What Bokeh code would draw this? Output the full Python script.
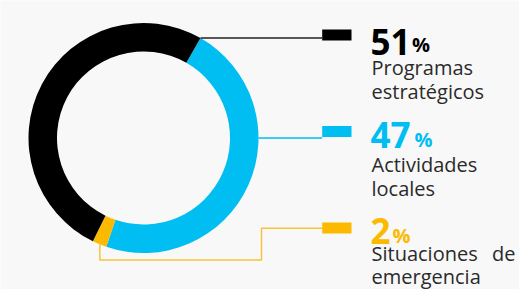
import math
from bokeh.plotting import figure
from bokeh.models import Range1d
from bokeh.core.properties import value
from bokeh.embed import file_html
from bokeh.resources import INLINE

# ---- data ----
categories = ["Programas estratégicos", "Actividades locales", "Situaciones de emergencia"]
values = [51, 47, 2]
pct_labels = ["51", "47", "2"]
label_line1 = ["Programas", "Actividades", "Situaciones"]
label_line2 = ["estratégicos", "locales", "emergencia"]
colors = ["#000000", "#00BEF2", "#FBBA00"]

# drawing order clockwise starting from offset angle (deg from top, clockwise)
draw_order = [1, 2, 0]
start_offset = 29.7

W, H = 519, 289
def Y(sy):
    return 289 - sy

p = figure(width=W, height=H, output_backend="svg", toolbar_location=None,
           x_range=Range1d(0, 519), y_range=Range1d(0, 289), min_border=0)
p.axis.visible = False
p.grid.visible = False
p.outline_line_color = None
p.background_fill_color = "#F8F8F8"
p.border_fill_color = "#F8F8F8"

cx, cy = 143, Y(137.5)
r_in, r_out = 86.5, 115

total = sum(values)
cum = start_offset
seg = {}
for i in draw_order:
    a0 = cum
    a1 = cum + values[i] / total * 360
    seg[i] = (a0, a1)
    cum = a1

def to_math(deg_clock):
    return math.radians(90 - deg_clock)

for i in draw_order:
    a0, a1 = seg[i]
    p.annular_wedge(x=[cx], y=[cy], inner_radius=r_in, outer_radius=r_out,
                    start_angle=to_math(a1), end_angle=to_math(a0),
                    direction="anticlock", color=colors[i], line_color=None)

def pt(deg_clock, r):
    a = to_math(deg_clock)
    return cx + r * math.cos(a), cy + r * math.sin(a)

# leader lines
bx0, bx1 = 321.7, 351
# black: from black/blue boundary
x0, y0 = pt(seg[0][1] % 360, r_out)
p.line([x0, bx0], [y0, y0], line_color="#222222", line_width=1.5)
p.quad(left=[bx0], right=[bx1], bottom=[Y(40)], top=[Y(29)], color=colors[0], line_color=None)
# blue: from rightmost point of ring
x1, y1 = pt(90, r_out)
p.line([x1, bx0], [y1, y1], line_color=colors[1], line_width=1.5)
p.quad(left=[bx0], right=[bx1], bottom=[Y(136.5)], top=[Y(125.5)], color=colors[1], line_color=None)
# orange: from middle of orange segment, down, right, up, right
xm, ym = pt((seg[2][0] + seg[2][1]) / 2, r_out - 1)
p.line([xm, xm, 261, 261, bx0], [ym, Y(259.5), Y(259.5), Y(227.7), Y(227.7)],
       line_color="#F8C23A", line_width=1.5)
p.quad(left=[bx0], right=[bx1], bottom=[Y(233)], top=[Y(222)], color=colors[2], line_color=None)

font = value("Open Sans")
tx = 370
num_base = [41.5, 134.5, 230]
pct_x = [411.5, 414, 392]
pct_base = [44, 139, 235]
l1_base = [66.5, 163.5, 253]
l2_base = [91, 188, 276]
for i in range(3):
    p.text(x=[tx], y=[Y(num_base[i])], text=[pct_labels[i]], text_font=font,
           text_font_size="35px", text_font_style="bold", text_color=colors[i],
           text_baseline="alphabetic", text_align="left")
    p.text(x=[pct_x[i]], y=[Y(pct_base[i])], text=["%"], text_font=font,
           text_font_size="20px", text_font_style="bold", text_color=colors[i],
           text_baseline="alphabetic", text_align="left")
    p.text(x=[tx + 1], y=[Y(l1_base[i])], text=[label_line1[i]], text_font=font,
           text_font_size="20px", text_color="#2a2a2a",
           text_baseline="alphabetic", text_align="left")
    p.text(x=[tx + 1], y=[Y(l2_base[i])], text=[label_line2[i]], text_font=font,
           text_font_size="20px", text_color="#2a2a2a",
           text_baseline="alphabetic", text_align="left")
p.text(x=[491.5], y=[Y(253)], text=["de"], text_font=font,
       text_font_size="20px", text_color="#2a2a2a",
       text_baseline="alphabetic", text_align="left")

html = file_html(p, INLINE)
html = html.replace("<body>", '<body style="background:#F8F8F8">', 1)
open("out.html", "w").write(html)
